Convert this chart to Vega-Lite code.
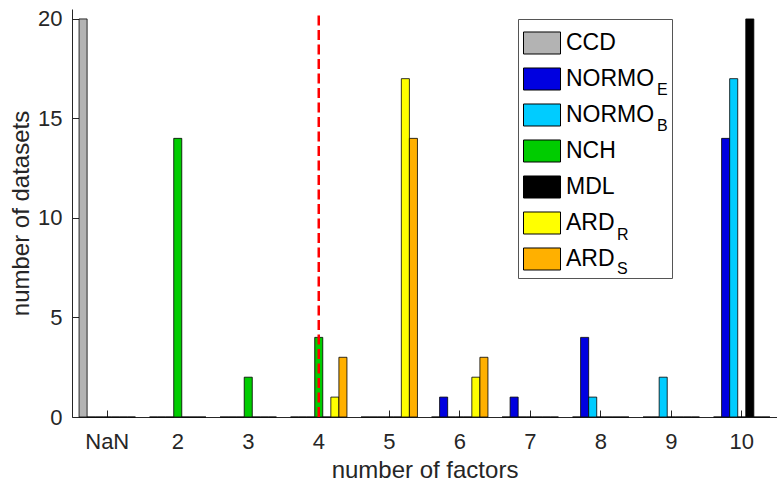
{
  "$schema": "https://vega.github.io/schema/vega-lite/v6.json",
  "width": 705,
  "height": 408,
  "autosize": {"type": "none"},
  "padding": {"left": 72, "top": 9, "right": 0, "bottom": 64},
  "background": "white",
  "config": {
    "view": {"stroke": null},
    "font": "Liberation Sans",
    "axis": {
      "labelFont": "Liberation Sans",
      "titleFont": "Liberation Sans",
      "labelColor": "#262626",
      "titleColor": "#262626",
      "domainColor": "#262626",
      "tickColor": "#262626",
      "titleFontWeight": "normal",
      "grid": false,
      "domainWidth": 1,
      "tickWidth": 1
    },
    "legend": {"labelFont": "Liberation Sans"}
  },
  "datasets": {
    "counts": [
      {"nf": "NaN", "method": "CCD", "count": 20},
      {"nf": "NaN", "method": "NORMO_E", "count": 0},
      {"nf": "NaN", "method": "NORMO_B", "count": 0},
      {"nf": "NaN", "method": "NCH", "count": 0},
      {"nf": "NaN", "method": "MDL", "count": 0},
      {"nf": "NaN", "method": "ARD_R", "count": 0},
      {"nf": "NaN", "method": "ARD_S", "count": 0},
      {"nf": "2", "method": "CCD", "count": 0},
      {"nf": "2", "method": "NORMO_E", "count": 0},
      {"nf": "2", "method": "NORMO_B", "count": 0},
      {"nf": "2", "method": "NCH", "count": 14},
      {"nf": "2", "method": "MDL", "count": 0},
      {"nf": "2", "method": "ARD_R", "count": 0},
      {"nf": "2", "method": "ARD_S", "count": 0},
      {"nf": "3", "method": "CCD", "count": 0},
      {"nf": "3", "method": "NORMO_E", "count": 0},
      {"nf": "3", "method": "NORMO_B", "count": 0},
      {"nf": "3", "method": "NCH", "count": 2},
      {"nf": "3", "method": "MDL", "count": 0},
      {"nf": "3", "method": "ARD_R", "count": 0},
      {"nf": "3", "method": "ARD_S", "count": 0},
      {"nf": "4", "method": "CCD", "count": 0},
      {"nf": "4", "method": "NORMO_E", "count": 0},
      {"nf": "4", "method": "NORMO_B", "count": 0},
      {"nf": "4", "method": "NCH", "count": 4},
      {"nf": "4", "method": "MDL", "count": 0},
      {"nf": "4", "method": "ARD_R", "count": 1},
      {"nf": "4", "method": "ARD_S", "count": 3},
      {"nf": "5", "method": "CCD", "count": 0},
      {"nf": "5", "method": "NORMO_E", "count": 0},
      {"nf": "5", "method": "NORMO_B", "count": 0},
      {"nf": "5", "method": "NCH", "count": 0},
      {"nf": "5", "method": "MDL", "count": 0},
      {"nf": "5", "method": "ARD_R", "count": 17},
      {"nf": "5", "method": "ARD_S", "count": 14},
      {"nf": "6", "method": "CCD", "count": 0},
      {"nf": "6", "method": "NORMO_E", "count": 1},
      {"nf": "6", "method": "NORMO_B", "count": 0},
      {"nf": "6", "method": "NCH", "count": 0},
      {"nf": "6", "method": "MDL", "count": 0},
      {"nf": "6", "method": "ARD_R", "count": 2},
      {"nf": "6", "method": "ARD_S", "count": 3},
      {"nf": "7", "method": "CCD", "count": 0},
      {"nf": "7", "method": "NORMO_E", "count": 1},
      {"nf": "7", "method": "NORMO_B", "count": 0},
      {"nf": "7", "method": "NCH", "count": 0},
      {"nf": "7", "method": "MDL", "count": 0},
      {"nf": "7", "method": "ARD_R", "count": 0},
      {"nf": "7", "method": "ARD_S", "count": 0},
      {"nf": "8", "method": "CCD", "count": 0},
      {"nf": "8", "method": "NORMO_E", "count": 4},
      {"nf": "8", "method": "NORMO_B", "count": 1},
      {"nf": "8", "method": "NCH", "count": 0},
      {"nf": "8", "method": "MDL", "count": 0},
      {"nf": "8", "method": "ARD_R", "count": 0},
      {"nf": "8", "method": "ARD_S", "count": 0},
      {"nf": "9", "method": "CCD", "count": 0},
      {"nf": "9", "method": "NORMO_E", "count": 0},
      {"nf": "9", "method": "NORMO_B", "count": 2},
      {"nf": "9", "method": "NCH", "count": 0},
      {"nf": "9", "method": "MDL", "count": 0},
      {"nf": "9", "method": "ARD_R", "count": 0},
      {"nf": "9", "method": "ARD_S", "count": 0},
      {"nf": "10", "method": "CCD", "count": 0},
      {"nf": "10", "method": "NORMO_E", "count": 14},
      {"nf": "10", "method": "NORMO_B", "count": 17},
      {"nf": "10", "method": "NCH", "count": 0},
      {"nf": "10", "method": "MDL", "count": 20},
      {"nf": "10", "method": "ARD_R", "count": 0},
      {"nf": "10", "method": "ARD_S", "count": 0}
    ],
    "threshold": [{"nf": "4", "lo": 0, "hi": 20.2}]
  },
  "layer": [
    {
      "data": {"name": "counts"},
      "mark": {"type": "bar", "stroke": "black"},
      "encoding": {
        "x": {
          "field": "nf",
          "type": "nominal",
          "scale": {
            "domain": ["NaN", "2", "3", "4", "5", "6", "7", "8", "9", "10"],
            "paddingInner": 0.2,
            "paddingOuter": 0.1
          },
          "axis": {
            "title": "number of factors",
            "labelAngle": 0,
            "labelFontSize": 22,
            "titleFontSize": 24,
            "tickSize": -7,
            "labelPadding": 21,
            "titlePadding": 6
          }
        },
        "xOffset": {
          "field": "method",
          "type": "nominal",
          "scale": {
            "domain": ["CCD", "NORMO_E", "NORMO_B", "NCH", "MDL", "ARD_R", "ARD_S"],
            "paddingInner": 0,
            "paddingOuter": 0
          }
        },
        "y": {
          "field": "count",
          "type": "quantitative",
          "scale": {"domain": [0, 20.5], "nice": false},
          "axis": {
            "title": "number of datasets",
            "values": [0, 5, 10, 15, 20],
            "labelFontSize": 22,
            "titleFontSize": 24,
            "tickSize": -7,
            "labelPadding": 17,
            "titlePadding": 4
          }
        },
        "color": {
          "field": "method",
          "type": "nominal",
          "sort": ["CCD", "NORMO_E", "NORMO_B", "NCH", "MDL", "ARD_R", "ARD_S"],
          "scale": {"range": ["#b3b3b3", "#0000e0", "#00ccff", "#00cc00", "#000000", "#ffff00", "#ffb000"]},
          "legend": {
            "orient": "none",
            "legendX": 446,
            "legendY": 10,
            "title": null,
            "symbolType": "M-1,-0.595H1V0.595H-1Z",
            "symbolSize": 1369,
            "symbolStrokeColor": "black",
            "symbolStrokeWidth": 1,
            "labelFontSize": 23,
            "labelColor": "black",
            "labelOffset": 5,
            "labelLimit": 300,
            "padding": 5,
            "rowPadding": 3,
            "strokeColor": "#555555",
            "labelExpr": "datum.label == 'CCD' ? 'CCD\u2800\u2800\u2800' : (datum.label == 'NORMO_E' || datum.label == 'NORMO_B' ? 'NORMO' : (datum.label == 'ARD_R' || datum.label == 'ARD_S' ? 'ARD' : datum.label))"
          }
        },
        "opacity": {
          "field": "method",
          "type": "nominal",
          "scale": {
            "domain": ["CCD", "NORMO_E", "NORMO_B", "NCH", "MDL", "ARD_R", "ARD_S"],
            "range": [1, 1]
          },
          "legend": {
            "orient": "none",
            "legendX": 543,
            "legendY": 26,
            "title": null,
            "symbolType": "M-1,-0.595H1V0.595H-1Z",
            "symbolSize": 1369,
            "symbolFillColor": "transparent",
            "symbolStrokeColor": "transparent",
            "symbolStrokeWidth": 0,
            "labelFontSize": 16,
            "labelColor": "black",
            "labelOffset": 5,
            "labelLimit": 300,
            "padding": 0,
            "rowPadding": 6,
            "labelExpr": "datum.label == 'NORMO_E' ? 'E' : datum.label == 'NORMO_B' ? 'B' : ''"
          }
        },
        "strokeWidth": {
          "field": "method",
          "type": "nominal",
          "scale": {
            "domain": ["CCD", "NORMO_E", "NORMO_B", "MDL", "NCH", "ARD_R", "ARD_S"],
            "range": [0.8, 0.8]
          },
          "legend": {
            "orient": "none",
            "legendX": 502,
            "legendY": 34,
            "title": null,
            "symbolType": "M-1,-0.595H1V0.595H-1Z",
            "symbolSize": 1369,
            "symbolFillColor": "transparent",
            "symbolStrokeColor": "transparent",
            "labelFontSize": 16,
            "labelColor": "black",
            "labelOffset": 5,
            "labelLimit": 300,
            "padding": 0,
            "rowPadding": 2.5,
            "labelExpr": "datum.label == 'ARD_R' ? 'R' : datum.label == 'ARD_S' ? 'S' : ''"
          }
        }
      }
    },
    {
      "data": {"name": "threshold"},
      "mark": {"type": "rule", "color": "#ff0000", "strokeWidth": 2.5, "strokeDash": [10, 4.5]},
      "encoding": {
        "x": {"field": "nf", "type": "nominal", "title": "number of factors"},
        "y": {"field": "lo", "type": "quantitative", "title": "number of datasets"},
        "y2": {"field": "hi"}
      }
    }
  ]
}
